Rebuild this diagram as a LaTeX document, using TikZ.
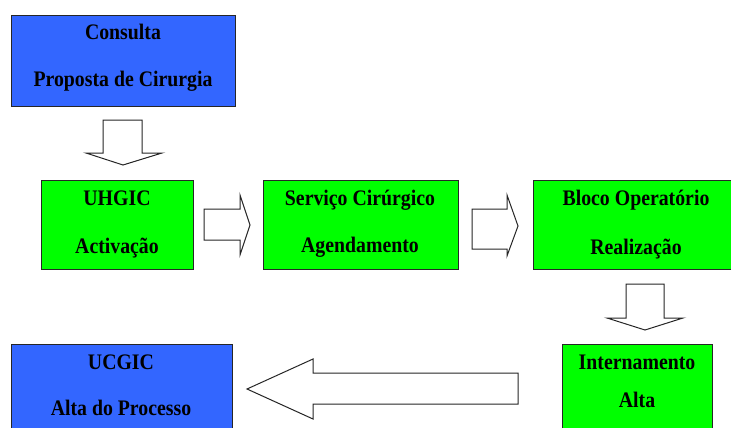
\documentclass[tikz,border=0pt]{standalone}
\usepackage{fontspec}
\setmainfont{Liberation Serif}
\definecolor{procblue}{HTML}{3366FF}
\definecolor{procgreen}{HTML}{00FF00}
\newcommand{\tallbold}[1]{\scalebox{1}[1.12]{#1}}
\tikzset{
  boxbase/.style={draw=black!85, line width=1pt, inner sep=0pt, anchor=north west},
  bluebox/.style={boxbase, fill=procblue},
  greenbox/.style={boxbase, fill=procgreen},
  lbl/.style={anchor=base, inner sep=0pt, font=\fontsize{19.8}{20}\selectfont\bfseries},
  blockarrow/.style={draw=black!85, line width=1pt, fill=white, line join=miter}
}
\begin{document}
\begin{tikzpicture}[x=1pt,y=-1pt]
\useasboundingbox (0,0) rectangle (731,428);

% process boxes
\node[bluebox,  minimum width=224pt, minimum height=91pt] (cons) at (11,15) {};
\node[greenbox, minimum width=152pt, minimum height=89pt] (uhg)  at (41,180) {};
\node[greenbox, minimum width=195pt, minimum height=89pt] (serv) at (263,180) {};
\node[greenbox, minimum width=199pt, minimum height=89pt] (bloc) at (533,180) {};
\node[greenbox, minimum width=150pt, minimum height=100pt] (intr) at (562,344) {};
\node[bluebox,  minimum width=221pt, minimum height=100pt] (ucg)  at (11,344) {};

% box labels
\node[lbl] (cons1) at (123,40) {\tallbold{Consulta}};
\node[lbl] (cons2) at (123,87) {\tallbold{Proposta de Cirurgia}};
\node[lbl] (uhg1)  at (117,205) {\tallbold{UHGIC}};
\node[lbl] (uhg2)  at (117,253) {\tallbold{Activação}};
\node[lbl] (serv1) at (360,205) {\tallbold{Serviço Cirúrgico}};
\node[lbl] (serv2) at (360,252) {\tallbold{Agendamento}};
\node[lbl] (bloc1) at (636,205) {\tallbold{Bloco Operatório}};
\node[lbl] (bloc2) at (636,254) {\tallbold{Realização}};
\node[lbl] (intr1) at (637,369) {\tallbold{Internamento}};
\node[lbl] (intr2) at (637,407) {\tallbold{Alta}};
\node[lbl] (ucg1)  at (121,369) {\tallbold{UCGIC}};
\node[lbl] (ucg2)  at (121,415) {\tallbold{Alta do Processo}};

% block arrows between the stages
\draw[blockarrow] (103,120) -- (142,120) -- (142,153) -- (162,153) -- (123,165)
  -- (86,153) -- (103,153) -- cycle;
\draw[blockarrow] (204,209) -- (240,209) -- (240,195) -- (250,225) -- (240,255)
  -- (240,240) -- (204,240) -- cycle;
\draw[blockarrow] (472,209) -- (507,209) -- (507,195) -- (518,226) -- (507,256)
  -- (507,249) -- (472,249) -- cycle;
\draw[blockarrow] (626,284) -- (664,284) -- (664,318) -- (683,318) -- (645,330)
  -- (607,318) -- (626,318) -- cycle;
\draw[blockarrow] (518,373) -- (313,373) -- (313,359) -- (247,389) -- (313,419)
  -- (313,404) -- (518,404) -- cycle;
\end{tikzpicture}
\end{document}
